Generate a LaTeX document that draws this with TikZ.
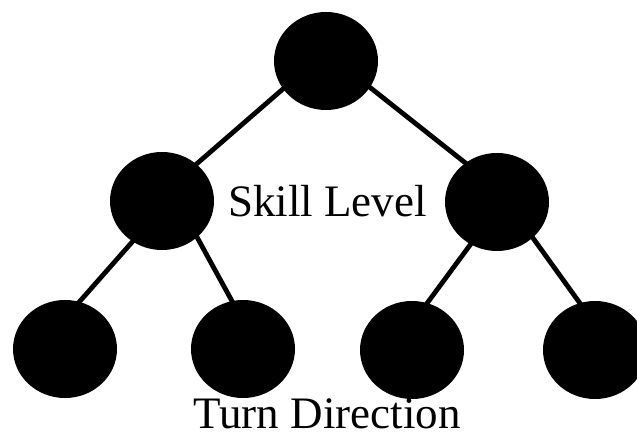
\documentclass[tikz,border=0pt]{standalone}
\usepackage{fontspec}
\setmainfont{Liberation Serif}
\usetikzlibrary{shapes.geometric,backgrounds}
\begin{document}
\begin{tikzpicture}[x=1pt,y=-1pt,
  treenode/.style={ellipse,fill=black,draw=none,inner sep=0pt,minimum width=104pt,minimum height=98pt},
  edge/.style={line width=4.8pt,shorten <=-4pt,shorten >=-4pt},
  lbl/.style={anchor=base,inner sep=0pt,font=\fontsize{45}{54}\selectfont}]
\useasboundingbox (0,0) rectangle (637,435);
\begin{scope}
\clip (0,0) rectangle (637,435);
\node[treenode] (r) at (326,61) {};
\node[treenode] (a) at (162,201) {};
\node[treenode] (b) at (497,202) {};
\node[treenode] (c) at (65,349) {};
\node[treenode] (d) at (243,349) {};
\node[treenode] (e) at (412,350) {};
\node[treenode] (f) at (595,350) {};
\begin{pgfonlayer}{background}
\draw[edge] (r.213) -- (a.47);
\draw[edge] (r.329) -- (b.129);
\draw[edge] (a.234) -- (c.73);
\draw[edge] (a.314) -- (d.103);
\draw[edge] (b.238) -- (e.72);
\draw[edge] (b.315) -- (f.108);
\end{pgfonlayer}
\end{scope}
\node[lbl] (sl) at (327.5,217) {Skill Level};
\node[lbl] (td) at (327,428) {Turn Direction};
\end{tikzpicture}
\end{document}
